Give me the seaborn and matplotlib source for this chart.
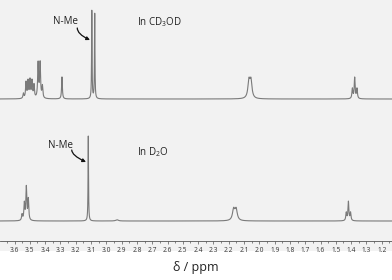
import numpy as np
import pandas as pd
import matplotlib
matplotlib.use('Agg')
import matplotlib.pyplot as plt
from matplotlib.patches import Rectangle
from matplotlib.ticker import MultipleLocator
import seaborn as sns

# peak lists (ppm, height, half width)
cd3od_pos = [3.542, 3.525, 3.512, 3.499, 3.486, 3.473, 3.446, 3.433, 3.418,
             3.290, 3.095, 3.076, 2.068, 2.055, 1.392, 1.377, 1.362]
cd3od_hgt = [5, 16, 17, 18, 17, 13, 35, 35, 12,
             22, 88, 85, 17, 17, 10, 21, 10]
cd3od_wid = [0.0035, 0.0035, 0.0035, 0.0035, 0.0035, 0.0035, 0.0035, 0.0035, 0.0035,
             0.003, 0.0018, 0.0018, 0.008, 0.008, 0.0035, 0.0035, 0.0035]

d2o_pos = [3.551, 3.536, 3.523, 3.510, 3.118, 2.930, 2.168, 2.152,
           1.432, 1.418, 1.404]
d2o_hgt = [6, 17, 33, 21, 85, 1.2, 11, 11, 8, 19, 8]
d2o_wid = [0.0035, 0.0035, 0.0035, 0.0035, 0.0018, 0.01, 0.009, 0.009,
           0.0035, 0.0035, 0.0035]

ticks = [3.6, 3.5, 3.4, 3.3, 3.2, 3.1, 3.0, 2.9, 2.8, 2.7, 2.6, 2.5, 2.4,
         2.3, 2.2, 2.1, 2.0, 1.9, 1.8, 1.7, 1.6, 1.5, 1.4, 1.3, 1.2]

ppm = np.linspace(3.7, 1.13, 30000)


def spectrum(pos, hgt, wid):
    y = np.zeros_like(ppm)
    for p, h, w in zip(pos, hgt, wid):
        y += h * w**2 / ((ppm - p)**2 + w**2)
    return y


df = pd.concat([
    pd.DataFrame({'ppm': ppm, 'I': spectrum(cd3od_pos, cd3od_hgt, cd3od_wid) + 142, 'solv': 'CD3OD'}),
    pd.DataFrame({'ppm': ppm, 'I': spectrum(d2o_pos, d2o_hgt, d2o_wid) + 20, 'solv': 'D2O'}),
])

sns.set_style('white')
plt.rcParams['font.family'] = ['Open Sans', 'DejaVu Sans']
plt.rcParams['mathtext.default'] = 'regular'

fig = plt.figure(figsize=(3.92, 2.80), dpi=100, facecolor='white')
fig.patches.append(Rectangle((0, 1 - 251 / 280), 1, 251 / 280, transform=fig.transFigure,
                             facecolor='#f2f2f2', edgecolor='none', zorder=-10))
ax = fig.add_axes([0, 1 - 241 / 280, 1, 241 / 280])
ax.set_facecolor('none')

for s in ['CD3OD', 'D2O']:
    d = df[df.solv == s]
    sns.lineplot(x=d['ppm'].values, y=d['I'].values, ax=ax, color='#7a7a7a', lw=0.8,
                 estimator=None, sort=False)

ax.set_xlim(3.695, 1.133)
ax.set_ylim(0, 241)
ax.set_yticks([])
for sp in ['left', 'right', 'top']:
    ax.spines[sp].set_visible(False)
ax.spines['bottom'].set_color('#555555')
ax.spines['bottom'].set_linewidth(0.6)
ax.set_xticks(ticks)
ax.set_xticklabels([f'{t:.1f}' for t in ticks])
ax.xaxis.set_minor_locator(MultipleLocator(0.05))
ax.tick_params(axis='x', which='major', direction='out', length=2.5, width=0.5,
               color='#555555', labelsize=4.8, pad=1.5, labelcolor='#333333')
ax.tick_params(axis='x', which='minor', direction='out', length=1.5, width=0.5, color='#555555')
ax.tick_params(axis='x', which='both', bottom=True)

arrow = dict(arrowstyle='-|>', color='#111111', lw=0.9, mutation_scale=5,
             connectionstyle='angle3,angleA=-90,angleB=-25', shrinkA=0, shrinkB=0)
ax.text(3.27, 219, 'N-Me', ha='center', va='center', fontsize=7, color='#222222')
ax.annotate('', xy=(3.107, 201), xytext=(3.19, 213), arrowprops=arrow)
ax.text(2.80, 219, 'In CD$_3$OD', ha='left', va='center', fontsize=7, color='#222222')

ax.text(3.30, 96, 'N-Me', ha='center', va='center', fontsize=7, color='#222222')
ax.annotate('', xy=(3.133, 79), xytext=(3.226, 91), arrowprops=arrow)
ax.text(2.80, 89, 'In D$_2$O', ha='left', va='center', fontsize=7, color='#222222')

fig.text(0.5, 1 - 268 / 280, 'δ / ppm', ha='center', va='center', fontsize=9, color='#222222')

fig.savefig('out.png', dpi=100, facecolor='white')
